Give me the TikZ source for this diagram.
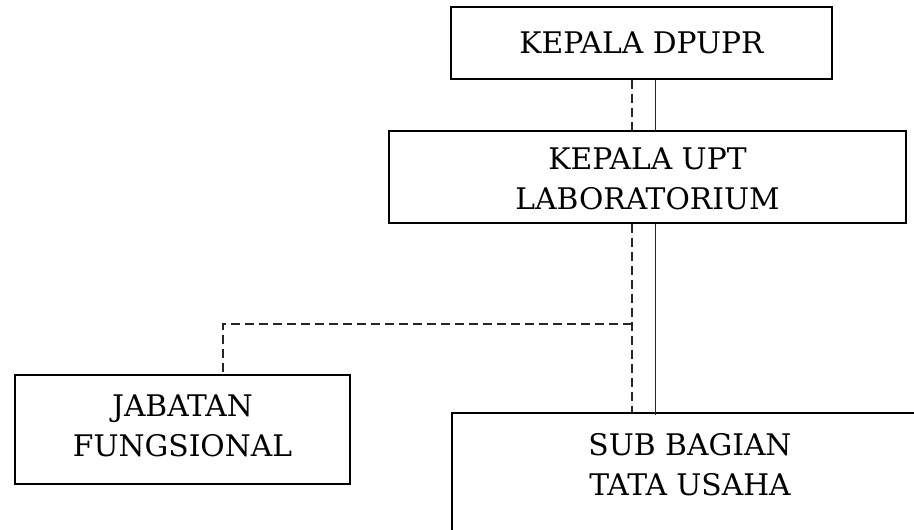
\documentclass[tikz,border=0pt]{standalone}
\usepackage{fontspec}
\setmainfont{DejaVu Serif}
\begin{document}
\begin{tikzpicture}[x=0.75pt,y=-0.75pt,
  box/.style={draw=black, line width=1.5pt, fill=white, inner sep=0pt},
  lbl/.style={align=center, font=\fontsize{22.3pt}{30pt}\selectfont, inner sep=0pt},
  solidlink/.style={draw=black!85, line width=1.3pt},
  dashlink/.style={draw=black!85, line width=1.3pt, dash pattern=on 6.5pt off 4pt}]
\useasboundingbox (0,0) rectangle (914,530);
\clip (0,0) rectangle (914,530);

% organisational boxes
\node[box, minimum width=381*0.75pt, minimum height=72*0.75pt] (dpupr) at (641.5,43) {};
\node[lbl] (dpuprtxt) at (641.5,43) {KEPALA DPUPR};

\node[box, minimum width=517*0.75pt, minimum height=92*0.75pt] (upt) at (647.5,177) {};
\node[lbl] (upttxt) at (647.5,179) {KEPALA UPT\\LABORATORIUM};

\node[box, minimum width=335*0.75pt, minimum height=109*0.75pt] (jf) at (182.5,429.5) {};
\node[lbl] (jftxt) at (182.5,426) {JABATAN\\FUNGSIONAL};

\node[box, anchor=north west, minimum width=476*0.75pt, minimum height=150*0.75pt] (sub) at (451,412) {};
\node[lbl, anchor=north] (subtxt) at ([yshift=-21*0.75pt]sub.north) {SUB BAGIAN\\TATA USAHA};

% columns of the two reporting lines
\coordinate (dx) at (631.7,0);
\coordinate (sx) at (655.5,0);
\coordinate (jx) at (223,0);
\coordinate (hy) at (0,324);

% command line
\draw[solidlink] (dpupr.south -| sx) -- (upt.north -| sx);
\draw[solidlink] (upt.south -| sx) -- ([yshift=-3*0.75pt]sub.north -| sx);

% coordination line
\draw[dashlink] (dpupr.south -| dx) -- (upt.north -| dx);
\draw[dashlink] (upt.south -| dx) -- (sub.north -| dx);
\draw[dashlink] (hy -| dx) -- (hy -| jx) -- (jf.north -| jx);
\end{tikzpicture}
\end{document}
